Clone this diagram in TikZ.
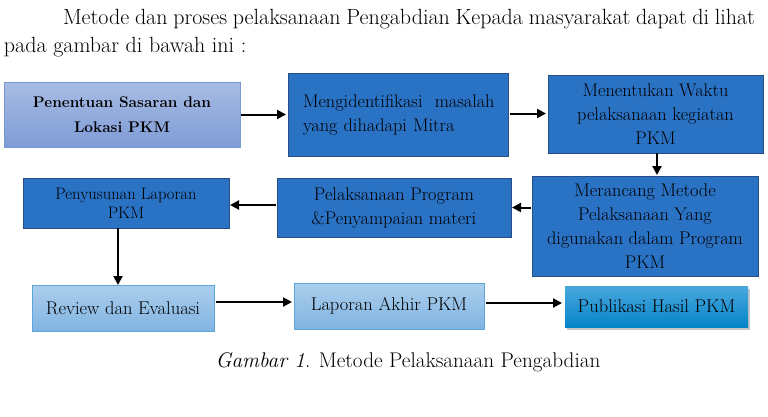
\documentclass[tikz,border=0pt]{standalone}
\usetikzlibrary{arrows.meta,shadows,calc}
\definecolor{dblue}{RGB}{42,114,196}
\definecolor{dborder}{RGB}{40,78,135}
\definecolor{lbtop}{RGB}{168,188,228}
\definecolor{lbbot}{RGB}{126,156,214}
\definecolor{lbborder}{RGB}{120,152,212}
\definecolor{sktop}{RGB}{172,206,236}
\definecolor{skbot}{RGB}{128,180,226}
\definecolor{skborder}{RGB}{92,166,222}
\definecolor{pbtop}{RGB}{74,168,222}
\definecolor{pbbot}{RGB}{4,132,200}
\begin{document}
\begin{tikzpicture}[x=1pt,y=1pt,
  every node/.style={inner sep=0pt, outer sep=0pt},
  dbox/.style={draw=dborder, line width=1pt, fill=dblue, align=center,
    font=\fontsize{18.3}{24}\selectfont},
  lbox/.style={draw=lbborder, line width=1pt, top color=lbtop, bottom color=lbbot, align=center,
    font=\fontsize{15.4}{25}\selectfont\bfseries},
  sbox/.style={draw=skborder, line width=1pt, top color=sktop, bottom color=skbot, align=center,
    font=\fontsize{18.5}{24}\selectfont},
  pbox/.style={top color=pbtop, bottom color=pbbot, align=center,
    font=\fontsize{18.5}{24}\selectfont,
    drop shadow={opacity=0.45, shadow xshift=1.5pt, shadow yshift=-2.5pt}},
  arr/.style={-{Triangle[length=9pt,width=9pt]}, line width=2pt, black}
]
\useasboundingbox (0,0) rectangle (768,-416);

% header text
\node[anchor=base west, font=\fontsize{22}{26}\selectfont] (h1) at (63,-24)
  {\makebox[692pt][s]{Metode dan proses pelaksanaan Pengabdian Kepada masyarakat dapat di lihat}};
\node[anchor=base west, font=\fontsize{22}{26}\selectfont] (h2) at (4,-52)
  {pada gambar di bawah ini :};

% boxes
\node[lbox, minimum width=236pt, minimum height=65pt] (b1) at (122,-114.5)
  {Penentuan Sasaran dan\\Lokasi PKM};
\node[dbox, minimum width=220pt, minimum height=83pt, align=left, text width=212pt] (b2) at (398,-114.5)
  {\hspace*{11pt}Mengidentifikasi\ \ masalah\\\hspace*{11pt}yang dihadapi Mitra};
\node[dbox, minimum width=215pt, minimum height=78pt] (b3) at (655.5,-114)
  {Menentukan Waktu\\pelaksanaan kegiatan\\PKM};
\node[dbox, minimum width=226pt, minimum height=100pt] (b4) at (645,-226)
  {Merancang Metode\\Pelaksanaan Yang\\digunakan dalam Program\\PKM};
\node[dbox, minimum width=234pt, minimum height=59pt] (b5) at (394,-207.5)
  {Pelaksanaan Program\\\&Penyampaian materi};
\node[dbox, minimum width=206pt, minimum height=50pt, font=\fontsize{16.6}{19}\selectfont] (b6) at (126,-203)
  {Penyusunan Laporan\\PKM};
\node[sbox, minimum width=182pt, minimum height=46pt] (b7) at (123,-308)
  {Review dan Evaluasi};
\node[sbox, minimum width=190pt, minimum height=46pt] (b8) at (389,-306)
  {Laporan Akhir PKM};
\node[pbox, minimum width=183pt, minimum height=41pt] (b9) at (656.5,-306.5)
  {Publikasi Hasil PKM};

% caption
\node[font=\fontsize{21.2}{26}\selectfont] (cap) at (408,-362)
  {\textit{Gambar 1}. Metode Pelaksanaan Pengabdian};

% connector anchors
\coordinate (a23) at ($(b2.east)+(0,1)$);
\coordinate (a56) at ($(b6.east)+(0,-2)$);
\coordinate (a78) at ($(b7.east)+(0,6)$);
\coordinate (a89) at ($(b8.east)+(0,3)$);

% connectors
\draw[arr, shorten <=1pt, shorten >=2pt] (b1.east) -- (b2.west |- b1.east);
\draw[arr, shorten <=2pt, shorten >=2pt] (a23) -- (b3.west |- a23);
\draw[arr, shorten >=1pt] ($(b3.south)+(1.5,0)$) -- ($(b4.north west)+(125,0)$);
\draw[arr, shorten <=1pt, shorten >=1pt] (b4.west |- b5.east) -- (b5.east);
\draw[arr, shorten <=1pt, shorten >=1pt] (b5.west |- a56) -- (a56);
\draw[arr] ($(b6.south)+(-8,0)$) -- ($(b7.north)+(-5,0)$);
\draw[arr, shorten <=2pt, shorten >=2pt] (a78) -- (b8.west |- a78);
\draw[arr, shorten <=2pt, shorten >=3pt] (a89) -- (b9.west |- a89);
\end{tikzpicture}
\end{document}
